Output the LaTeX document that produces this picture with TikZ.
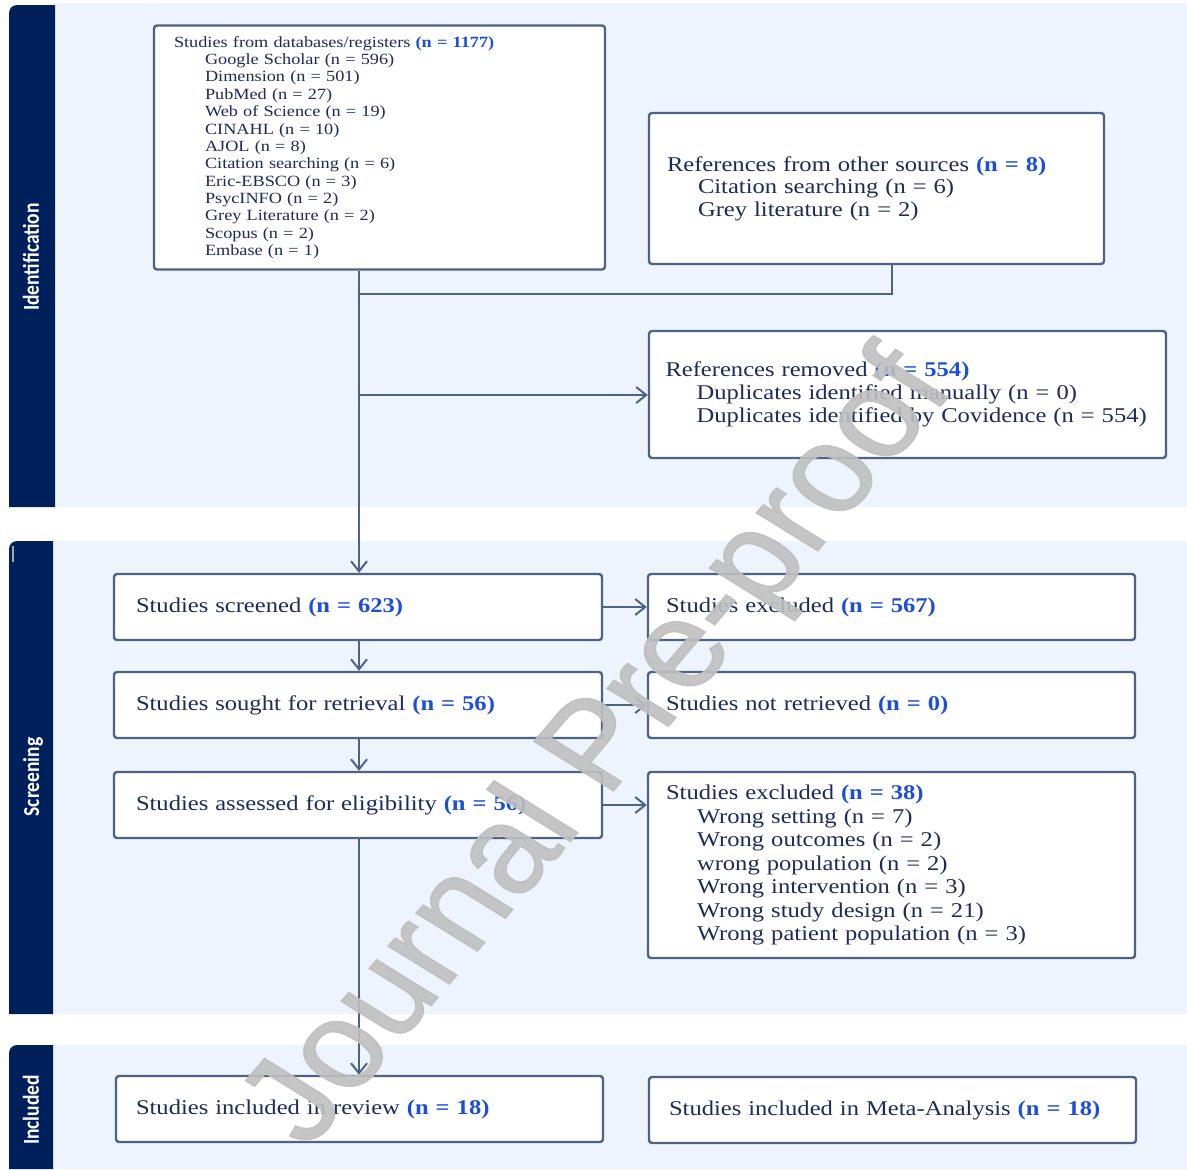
\documentclass[tikz,border=0pt]{standalone}
\usepackage{fontspec}
\setmainfont{Liberation Serif}
\newfontfamily\boxfont{Liberation Serif}[FakeStretch=1.17]
\newfontfamily\sidefont{Carlito}[FakeStretch=0.855]
\newfontfamily\wmfont{Liberation Sans}[FakeBold=1.2]
\usetikzlibrary{arrows.meta,calc}
\definecolor{navy}{RGB}{0,32,91}
\definecolor{panel}{RGB}{237,244,253}
\definecolor{edge}{RGB}{78,98,132}
\definecolor{ink}{RGB}{30,42,88}
\definecolor{num}{RGB}{28,78,216}
\newcommand{\nb}[1]{\textbf{\color{num}#1}}
\newcommand{\ind}{\hspace*{15.5pt}}
\begin{document}
\begin{tikzpicture}[x=0.5pt,y=-0.5pt,
  box/.style={draw=edge, line width=1.2pt, fill=white, rounded corners=1.5pt,
    font=\boxfont\fontsize{10.5}{11.5}\selectfont, text=ink, align=left,
    inner xsep=9pt, inner ysep=0pt, anchor=center},
  onebox/.style={box, minimum width=244pt, minimum height=33pt, text width=226pt},
  sidelab/.style={rotate=90, text=white, font=\sidefont\bfseries\fontsize{11.4}{12}\selectfont},
  conn/.style={draw=edge, line width=1.1pt},
  arr/.style={-{Straight Barb[length=5pt,width=8pt,line width=1pt]}},
  wm/.style={text=black!25, text opacity=0.9, font=\wmfont\fontsize{61}{61}\selectfont}]
\useasboundingbox (0,0) rectangle (1187,1169);
\fill[white] (0,0) rectangle (1187,1169);
% panels
\fill[panel] (55,3) rectangle (1187,507);
\fill[navy] (9,507) [rounded corners=4pt] -- (9,5) [sharp corners] -- (55,5) -- (55,507) -- cycle;
\fill[panel] (53,541) rectangle (1187,1014);
\fill[navy] (9,1014) [rounded corners=4pt] -- (9,541) [sharp corners] -- (53,541) -- (53,1014) -- cycle;
\draw[gray!70, line width=0.6pt] (13,546) -- (13,562);
\fill[panel] (53,1045) rectangle (1187,1169);
\fill[navy] (9,1169) [rounded corners=4pt] -- (9,1045) [sharp corners] -- (53,1045) -- (53,1169) -- cycle;
\node[sidelab] (lid) at (31,257) {Identification};
\node[sidelab] (lsc) at (33,777) {Screening};
\node[sidelab] (lin) at (31,1110) {Included};
% boxes
\node[box, minimum width=225.5pt, minimum height=122pt, text width=205.5pt, inner xsep=10pt,
  font=\boxfont\fontsize{7.8}{8.67}\selectfont] (db) at (379.5,147.5)
  {Studies from databases/registers \nb{(n = 1177)}\\
   \ind Google Scholar (n = 596)\\
   \ind Dimension (n = 501)\\
   \ind PubMed (n = 27)\\
   \ind Web of Science (n = 19)\\
   \ind CINAHL (n = 10)\\
   \ind AJOL (n = 8)\\
   \ind Citation searching (n = 6)\\
   \ind Eric-EBSCO (n = 3)\\
   \ind PsycINFO (n = 2)\\
   \ind Grey Literature (n = 2)\\
   \ind Scopus (n = 2)\\
   \ind Embase (n = 1)};
\node[box, minimum width=227.5pt, minimum height=75.5pt, text width=209.5pt,
  font=\boxfont\fontsize{10.5}{11.25}\selectfont] (other) at (876.5,188.5)
  {References from other sources \nb{(n = 8)}\\
   \ind Citation searching (n = 6)\\
   \ind Grey literature (n = 2)};
\node[box, minimum width=258.5pt, minimum height=63.5pt, text width=242pt, inner xsep=8.25pt] (removed) at (907.5,394.5)
  {References removed \nb{(n = 554)}\\
   \ind Duplicates identified manually (n = 0)\\
   \ind Duplicates identified by Covidence (n = 554)};
\node[onebox, inner xsep=11pt, text width=222pt] (screened) at (358,607) {Studies screened \nb{(n = 623)}};
\node[onebox, minimum width=243.5pt, text width=225.5pt] (excl1) at (891.5,607) {Studies excluded \nb{(n = 567)}};
\node[onebox, inner xsep=11pt, text width=222pt] (sought) at (358,705) {Studies sought for retrieval \nb{(n = 56)}};
\node[onebox, minimum width=243.5pt, text width=225.5pt] (notret) at (891.5,705) {Studies not retrieved \nb{(n = 0)}};
\node[onebox, inner xsep=11pt, text width=222pt] (assessed) at (358,805) {Studies assessed for eligibility \nb{(n = 56)}};
\node[box, minimum width=243.5pt, minimum height=93pt, text width=225.5pt,
  font=\boxfont\fontsize{10.5}{11.75}\selectfont] (excl2) at (891.5,865)
  {Studies excluded \nb{(n = 38)}\\
   \ind Wrong setting (n = 7)\\
   \ind Wrong outcomes (n = 2)\\
   \ind wrong population (n = 2)\\
   \ind Wrong intervention (n = 3)\\
   \ind Wrong study design (n = 21)\\
   \ind Wrong patient population (n = 3)};
\node[onebox, minimum width=243.5pt, inner xsep=10pt, text width=223.5pt] (review) at (359.5,1109) {Studies included in review \nb{(n = 18)}};
\node[onebox, minimum width=243.5pt, inner xsep=10pt, text width=223.5pt] (meta) at (892.5,1110) {Studies included in Meta-Analysis \nb{(n = 18)}};
% connectors
\coordinate (j1) at (359,294);
\coordinate (j2) at (359,395);
\coordinate (k) at (892,294);
\draw[conn] (other.south -| k) -- (k) -- (j1);
\draw[conn, arr] (db.south -| j1) -- (screened.north -| j1);
\draw[conn, arr] (j2) -- (j2 -| removed.west);
\draw[conn, arr] (screened.east) -- (excl1.west);
\draw[conn, arr] (screened.south -| j1) -- (sought.north -| j1);
\draw[conn, arr] (sought.east) -- (notret.west);
\draw[conn, arr] (sought.south -| j1) -- (assessed.north -| j1);
\draw[conn, arr] (assessed.east) -- (assessed.east -| excl2.west);
\draw[conn, arr] (assessed.south -| j1) -- (review.north -| j1);
% watermark
\begin{scope}[xscale=1.17]
\node[wm, rotate=54, transform shape] (wmark) at (515,750) {Journal Pre-proof};
\end{scope}
\end{tikzpicture}
\end{document}
